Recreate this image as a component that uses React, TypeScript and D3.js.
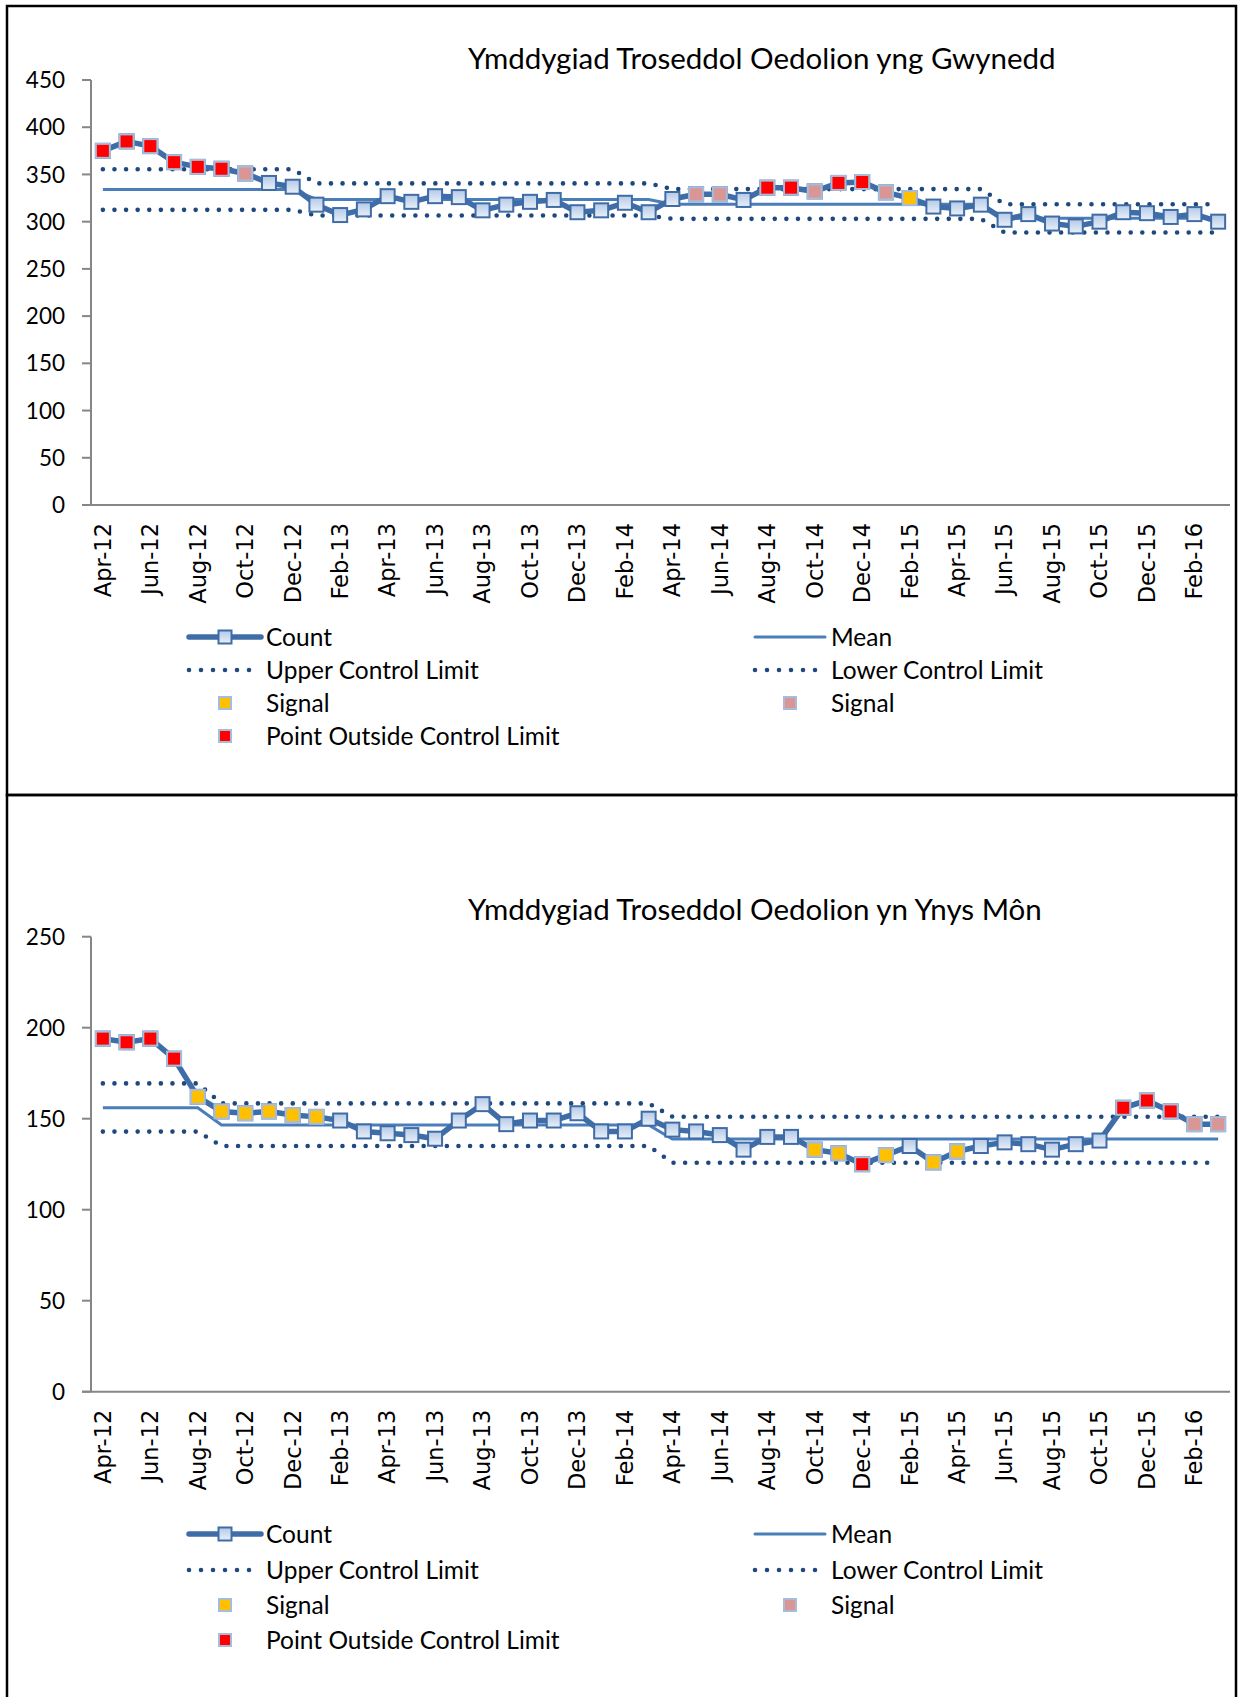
import React, { useEffect, useRef } from "react";
import * as d3 from "d3";

// categories
const months = [
  "Apr-12", "May-12", "Jun-12", "Jul-12", "Aug-12", "Sep-12", "Oct-12", "Nov-12", "Dec-12", "Jan-13", "Feb-13", "Mar-13",
  "Apr-13", "May-13", "Jun-13", "Jul-13", "Aug-13", "Sep-13", "Oct-13", "Nov-13", "Dec-13", "Jan-14", "Feb-14", "Mar-14",
  "Apr-14", "May-14", "Jun-14", "Jul-14", "Aug-14", "Sep-14", "Oct-14", "Nov-14", "Dec-14", "Jan-15", "Feb-15", "Mar-15",
  "Apr-15", "May-15", "Jun-15", "Jul-15", "Aug-15", "Sep-15", "Oct-15", "Nov-15", "Dec-15", "Jan-16", "Feb-16", "Mar-16",
];

// Gwynedd
const gwyneddCount = [
  375, 385, 380, 363, 358, 356, 351, 341, 337, 318, 307, 313, 327, 321, 327, 326, 312, 318, 321, 323, 310, 312, 320, 310,
  324, 329, 329, 323, 336, 336, 332, 341, 342, 331, 325, 316, 314, 318, 302, 308, 298, 295, 300, 310, 309, 305, 308, 300,
];
const gwyneddPhaseStart = [0, 9, 24, 38];
const gwyneddMean = [334, 323.5, 318.5, 303.5];
const gwyneddUcl = [355.5, 340.5, 334.5, 318.5];
const gwyneddLcl = [312.5, 306.5, 303, 288.5];
const gwyneddOutside = [0, 1, 2, 3, 4, 5, 28, 29, 31, 32];
const gwyneddSignalAmber = [34];
const gwyneddSignalPink = [6, 25, 26, 30, 33];
const gwyneddTicks = [0, 50, 100, 150, 200, 250, 300, 350, 400, 450];

// Ynys Mon
const ynysCount = [
  194, 192, 194, 183, 162, 154, 153, 154, 152, 151, 149, 143, 142, 141, 139, 149, 158, 147, 149, 149, 153, 143, 143, 150,
  144, 143, 141, 133, 140, 140, 133, 131, 125, 130, 135, 126, 132, 135, 137, 136, 133, 136, 138, 156, 160, 154, 147, 147,
];
const ynysPhaseStart = [0, 5, 24];
const ynysMean = [156, 146.5, 138.8];
const ynysUcl = [169.4, 158.4, 151.1];
const ynysLcl = [142.9, 135, 125.8];
const ynysOutside = [0, 1, 2, 3, 32, 43, 44, 45];
const ynysSignalAmber = [4, 5, 6, 7, 8, 9, 30, 31, 33, 35, 36];
const ynysSignalPink = [46, 47];
const ynysTicks = [0, 50, 100, 150, 200, 250];

const legendLabels = ["Count", "Mean", "Upper Control Limit", "Lower Control Limit", "Signal", "Signal", "Point Outside Control Limit"];

const WIDTH = 1239;
const HEIGHT = 1697;
const PLOT_LEFT = 91;
const PLOT_RIGHT = 1230;

const LINE_BLUE = "#3f6da8";
const MEAN_BLUE = "#4a7ebb";
const DOT_BLUE = "#1f497d";
const AXIS_GREY = "#868686";
const RED = "#ff0000";
const AMBER = "#ffc000";
const PINK = "#d99694";
const SIGNAL_EDGE = "#a7bcdb";
const TEXT_FONT = "Lato, 'Open Sans', sans-serif";
const AXIS_FONT = "'DejaVu Sans', Verdana, sans-serif";

const panels = [
  {
    title: "Ymddygiad Troseddol Oedolion yng Gwynedd",
    count: gwyneddCount, phaseStart: gwyneddPhaseStart, mean: gwyneddMean, ucl: gwyneddUcl, lcl: gwyneddLcl,
    outside: gwyneddOutside, amber: gwyneddSignalAmber, pink: gwyneddSignalPink, ticks: gwyneddTicks,
    boxTop: 6, boxBottom: 795, titleY: 68.5, plotTop: 80, plotBottom: 505, legendRows: [637, 670, 703, 736],
  },
  {
    title: "Ymddygiad Troseddol Oedolion yn Ynys Môn",
    count: ynysCount, phaseStart: ynysPhaseStart, mean: ynysMean, ucl: ynysUcl, lcl: ynysLcl,
    outside: ynysOutside, amber: ynysSignalAmber, pink: ynysSignalPink, ticks: ynysTicks,
    boxTop: 795, boxBottom: 1702, titleY: 920, plotTop: 936.7, plotBottom: 1391.7, legendRows: [1534, 1570, 1605, 1640],
  },
];

const MARK = 14;

function countMarker(g, cx, cy, size) {
  g.append("rect")
    .attr("x", cx - size / 2)
    .attr("y", cy - size / 2)
    .attr("width", size)
    .attr("height", size)
    .attr("fill", "url(#markGrad)")
    .attr("stroke", "#3f6ca6")
    .attr("stroke-width", 2);
}

function signalMarker(g, cx, cy, size, fill) {
  g.append("rect")
    .attr("x", cx - size / 2)
    .attr("y", cy - size / 2)
    .attr("width", size)
    .attr("height", size)
    .attr("fill", fill)
    .attr("stroke", SIGNAL_EDGE)
    .attr("stroke-width", 2);
}

function drawPanel(svg, p) {
  const g = svg.append("g");

  // box
  g.append("rect")
    .attr("x", 7)
    .attr("y", p.boxTop)
    .attr("width", 1229)
    .attr("height", p.boxBottom - p.boxTop)
    .attr("fill", "none")
    .attr("stroke", "#000")
    .attr("stroke-width", 2.5);

  const x = d3.scalePoint().domain(months).range([PLOT_LEFT, PLOT_RIGHT]).padding(0.5);
  const y = d3.scaleLinear().domain([0, d3.max(p.ticks)]).range([p.plotBottom, p.plotTop]);

  // title
  g.append("text")
    .attr("x", 468)
    .attr("y", p.titleY)
    .attr("font-family", TEXT_FONT)
    .attr("font-size", 29.5)
    .attr("fill", "#000")
    .text(p.title);

  // y axis
  g.append("line")
    .attr("x1", PLOT_LEFT).attr("x2", PLOT_LEFT)
    .attr("y1", p.plotTop).attr("y2", p.plotBottom)
    .attr("stroke", AXIS_GREY).attr("stroke-width", 2);
  p.ticks.forEach(t => {
    g.append("line")
      .attr("x1", PLOT_LEFT - 9).attr("x2", PLOT_LEFT)
      .attr("y1", y(t)).attr("y2", y(t))
      .attr("stroke", AXIS_GREY).attr("stroke-width", 2);
    g.append("text")
      .attr("x", 65)
      .attr("y", y(t))
      .attr("dy", "0.36em")
      .attr("text-anchor", "end")
      .attr("font-family", TEXT_FONT)
      .attr("font-size", 22.5)
      .text(t);
  });

  // x axis
  g.append("line")
    .attr("x1", PLOT_LEFT - 9).attr("x2", PLOT_RIGHT)
    .attr("y1", p.plotBottom).attr("y2", p.plotBottom)
    .attr("stroke", AXIS_GREY).attr("stroke-width", 2);
  months.forEach((m, i) => {
    if (i % 2 !== 0) return;
    const lx = x(m);
    const ly = p.plotBottom + 18;
    g.append("text")
      .attr("transform", `translate(${lx},${ly}) rotate(-90)`)
      .attr("dy", "0.35em")
      .attr("text-anchor", "end")
      .attr("font-family", AXIS_FONT)
      .attr("font-size", 22.5)
      .text(m);
  });

  // expand phase values to months
  const phaseOf = i => d3.bisectRight(p.phaseStart, i) - 1;
  const meanVals = months.map((m, i) => p.mean[phaseOf(i)]);
  const uclVals = months.map((m, i) => p.ucl[phaseOf(i)]);
  const lclVals = months.map((m, i) => p.lcl[phaseOf(i)]);

  const line = d3.line()
    .x((d, i) => x(months[i]))
    .y(d => y(d));

  g.append("path")
    .attr("d", line(meanVals))
    .attr("fill", "none")
    .attr("stroke", MEAN_BLUE)
    .attr("stroke-width", 3);

  [uclVals, lclVals].forEach(vals => {
    g.append("path")
      .attr("d", line(vals))
      .attr("fill", "none")
      .attr("stroke", DOT_BLUE)
      .attr("stroke-width", 4.6)
      .attr("stroke-linecap", "round")
      .attr("stroke-dasharray", "0 11.6");
  });

  g.append("path")
    .attr("d", line(p.count))
    .attr("fill", "none")
    .attr("stroke", LINE_BLUE)
    .attr("stroke-width", 5.5)
    .attr("stroke-linejoin", "round");

  p.count.forEach((v, i) => countMarker(g, x(months[i]), y(v), MARK));
  p.amber.forEach(i => signalMarker(g, x(months[i]), y(p.count[i]), MARK, AMBER));
  p.pink.forEach(i => signalMarker(g, x(months[i]), y(p.count[i]), MARK, PINK));
  p.outside.forEach(i => signalMarker(g, x(months[i]), y(p.count[i]), MARK, RED));

  // legend
  const [r0, r1, r2, r3] = p.legendRows;
  const leftSym = 189, leftText = 266, rightSym = 755, rightText = 831;

  g.append("line")
    .attr("x1", leftSym).attr("x2", leftSym + 72)
    .attr("y1", r0).attr("y2", r0)
    .attr("stroke", LINE_BLUE).attr("stroke-width", 5.5).attr("stroke-linecap", "round");
  countMarker(g, leftSym + 36, r0, 13);

  g.append("line")
    .attr("x1", rightSym).attr("x2", rightSym + 70)
    .attr("y1", r0).attr("y2", r0)
    .attr("stroke", MEAN_BLUE).attr("stroke-width", 3).attr("stroke-linecap", "round");

  [[leftSym, r1], [rightSym, r1]].forEach(([sx, sy]) => {
    g.append("line")
      .attr("x1", sx).attr("x2", sx + 62)
      .attr("y1", sy).attr("y2", sy)
      .attr("stroke", DOT_BLUE).attr("stroke-width", 4.6)
      .attr("stroke-linecap", "round").attr("stroke-dasharray", "0 12");
  });

  signalMarker(g, leftSym + 36, r2, 12, AMBER);
  signalMarker(g, rightSym + 35, r2, 12, PINK);
  signalMarker(g, leftSym + 36, r3, 12, RED);

  const legendPos = [
    [leftText, r0], [rightText, r0], [leftText, r1], [rightText, r1],
    [leftText, r2], [rightText, r2], [leftText, r3],
  ];
  legendLabels.forEach((label, i) => {
    g.append("text")
      .attr("x", legendPos[i][0])
      .attr("y", legendPos[i][1])
      .attr("dy", "0.36em")
      .attr("font-family", TEXT_FONT)
      .attr("font-size", 24.5)
      .text(label);
  });
}

export default function App() {
  const ref = useRef(null);

  useEffect(() => {
    const svg = d3.select(ref.current);
    svg.selectAll("*").remove();

    const defs = svg.append("defs");
    const grad = defs.append("linearGradient")
      .attr("id", "markGrad")
      .attr("x1", 0).attr("y1", 0).attr("x2", 0).attr("y2", 1);
    grad.append("stop").attr("offset", "0%").attr("stop-color", "#b4c9e7");
    grad.append("stop").attr("offset", "100%").attr("stop-color", "#e9f0f9");

    svg.append("rect").attr("width", WIDTH).attr("height", HEIGHT).attr("fill", "#fff");
    panels.forEach(p => drawPanel(svg, p));
  }, []);

  return (
    <svg
      ref={ref}
      width={WIDTH}
      height={HEIGHT}
      style={{ position: "absolute", left: 0, top: 0, display: "block" }}
    />
  );
}
